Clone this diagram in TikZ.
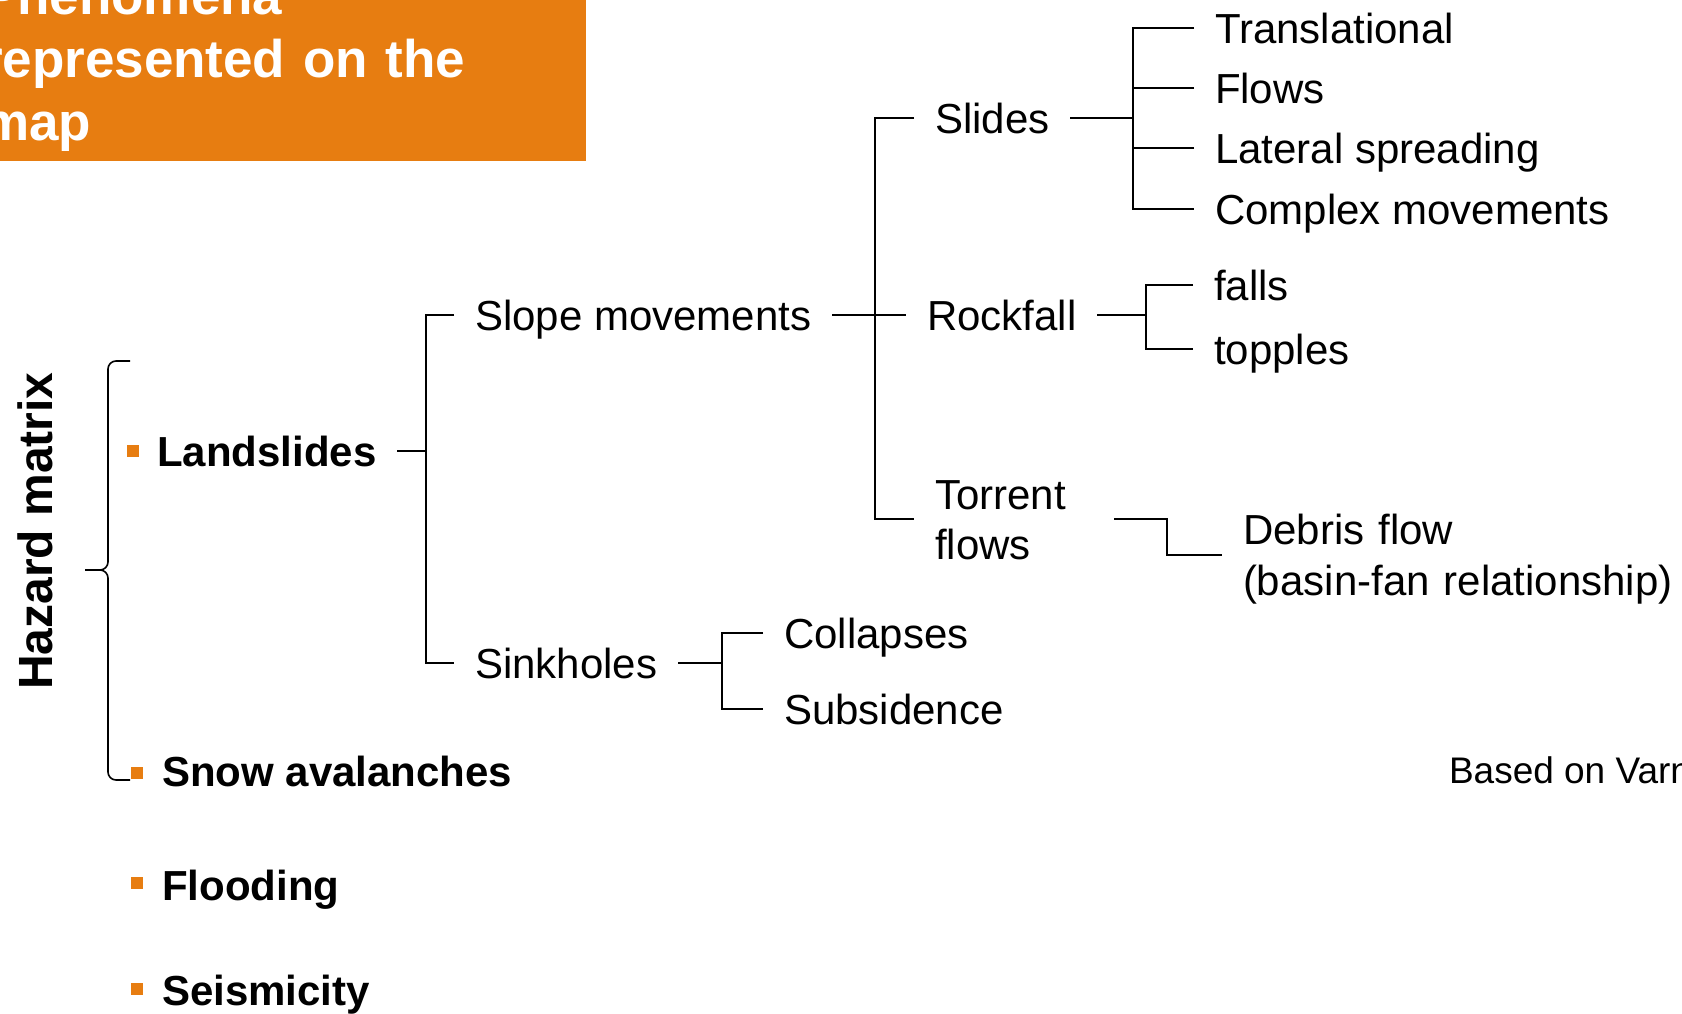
\documentclass[tikz,border=0pt]{standalone}
\usepackage{fontspec}
\setmainfont{Liberation Sans}
\usepackage{tikz}
\usetikzlibrary{positioning}
\definecolor{hazorange}{HTML}{E77D11}

\begin{document}
\begin{tikzpicture}[x=0.5pt,y=-0.5pt,line width=1pt]
    \useasboundingbox (0,0) rectangle (1682,1013);
    \clip (0,0) rectangle (1682,1013);
    %%%%% THE TITLE
    \fill[hazorange] (0,0) rectangle (586,161);
    \node[anchor=base west,inner sep=0pt,align=left,text width=300pt,text=white,
        font=\bfseries\fontsize{26.5}{31.5}\selectfont] (TITLE) at (-19,14)
        {Phenomena\\represented on the\\map};
    %%%%% THE MATRIX
    \node[rotate=90,inner sep=0pt,text height=17.2pt,text depth=0pt,
        font=\bfseries\fontsize{24}{28}\selectfont] (MATRIX) at (35,531) {Hazard matrix};
    \draw[line width=0.8pt,rounded corners=4pt] (130,361) -- (108,361) -- (108,570) -- (85,570);
    \draw[line width=0.8pt,rounded corners=4pt] (85,570) -- (108,570) -- (108,780) -- (130,780);
    %%%%% THE HAZARDS
    \begin{scope}[every node/.style={anchor=base west,inner xsep=10pt,inner ysep=0pt,
            text height=15pt,text depth=0pt,font=\bfseries\fontsize{21}{25}\selectfont},
        bullet/.style={anchor=center,fill=hazorange,inner sep=0pt,minimum size=6pt,
            text height=0pt,text depth=0pt}]
      \node[bullet] (B-1) at (133,451) {};
      \node[bullet] (B-2) at (137,773) {};
      \node[bullet] (B-3) at (137,883) {};
      \node[bullet] (B-4) at (137,989) {};
      \node (LANDSLIDES) at (136,466) {Landslides};
      \node (SNOW) at (141,786) {Snow avalanches};
      \node (FLOODING) at (141,900) {Flooding};
      \node (SEISMICITY) at (141,1005) {Seismicity};
    \end{scope}
    %%%%% THE TREE OF LANDSLIDES
    \begin{scope}[every node/.style={anchor=base west,inner xsep=10pt,inner ysep=0pt,
            text height=15pt,text depth=0pt,font=\fontsize{21}{25}\selectfont}]
      \node (SLOPE) at (454,330) {Slope movements};
      \node (SINK) at (454,678) {Sinkholes};
      \node (SLIDES) at (914,133) {Slides};
      \node (ROCK) at (906,330) {Rockfall};
      \node[align=left,text width=79pt,text depth=25pt] (TORRENT) at (914,509) {Torrent\\flows};
      \node (TRANS) at (1194,43) {Translational};
      \node (FLOWS) at (1194,103) {Flows};
      \node (LATERAL) at (1194,163) {Lateral spreading};
      \node (COMPLEX) at (1194,224) {Complex movements};
      \node (FALLS) at (1193,300) {falls};
      \node (TOPPLES) at (1193,364) {topples};
      \node[align=left,text width=220pt,text depth=25.5pt,font=\fontsize{21}{25.5}\selectfont]
        (DEBRIS) at (1222,544) {Debris flow\\(basin-fan relationship)};
      \node (COLLAPSES) at (763,648) {Collapses};
      \node (SUBSIDENCE) at (763,724) {Subsidence};
    \end{scope}
    \node[anchor=base west,inner sep=0pt,font=\fontsize{18.5}{22}\selectfont] (SOURCE) at (1448,783) {Based on Varnes};
    %%%% LINKS OF THE TREE
    \coordinate (J-1) at (426,0);
    \coordinate (J-2) at (875,0);
    \coordinate (J-3) at (1133,0);
    \coordinate (J-4) at (1146,0);
    \coordinate (J-5) at (722,0);
    \coordinate (J-6) at (1167,0);
    \draw (LANDSLIDES.east) -- (LANDSLIDES.east -| J-1);
    \draw (SLOPE.west) -- (SLOPE.west -| J-1) -- (SINK.west -| J-1) -- (SINK.west);
    \draw (SLOPE.east) -- (ROCK.west);
    \draw (SLIDES.west) -- (SLIDES.west -| J-2) -- (TORRENT.west -| J-2) -- (TORRENT.west);
    \draw (SLIDES.east) -- (SLIDES.east -| J-3);
    \draw (TRANS.west) -- (TRANS.west -| J-3) -- (COMPLEX.west -| J-3) -- (COMPLEX.west);
    \draw (FLOWS.west) -- (FLOWS.west -| J-3);
    \draw (LATERAL.west) -- (LATERAL.west -| J-3);
    \draw (ROCK.east) -- (ROCK.east -| J-4);
    \draw (FALLS.west) -- (FALLS.west -| J-4) -- (TOPPLES.west -| J-4) -- (TOPPLES.west);
    \draw (TORRENT.east) -- (TORRENT.east -| J-6) -- (DEBRIS.west -| J-6) -- (DEBRIS.west);
    \draw (SINK.east) -- (SINK.east -| J-5);
    \draw (COLLAPSES.west) -- (COLLAPSES.west -| J-5) -- (SUBSIDENCE.west -| J-5) -- (SUBSIDENCE.west);
\end{tikzpicture}
\end{document}
